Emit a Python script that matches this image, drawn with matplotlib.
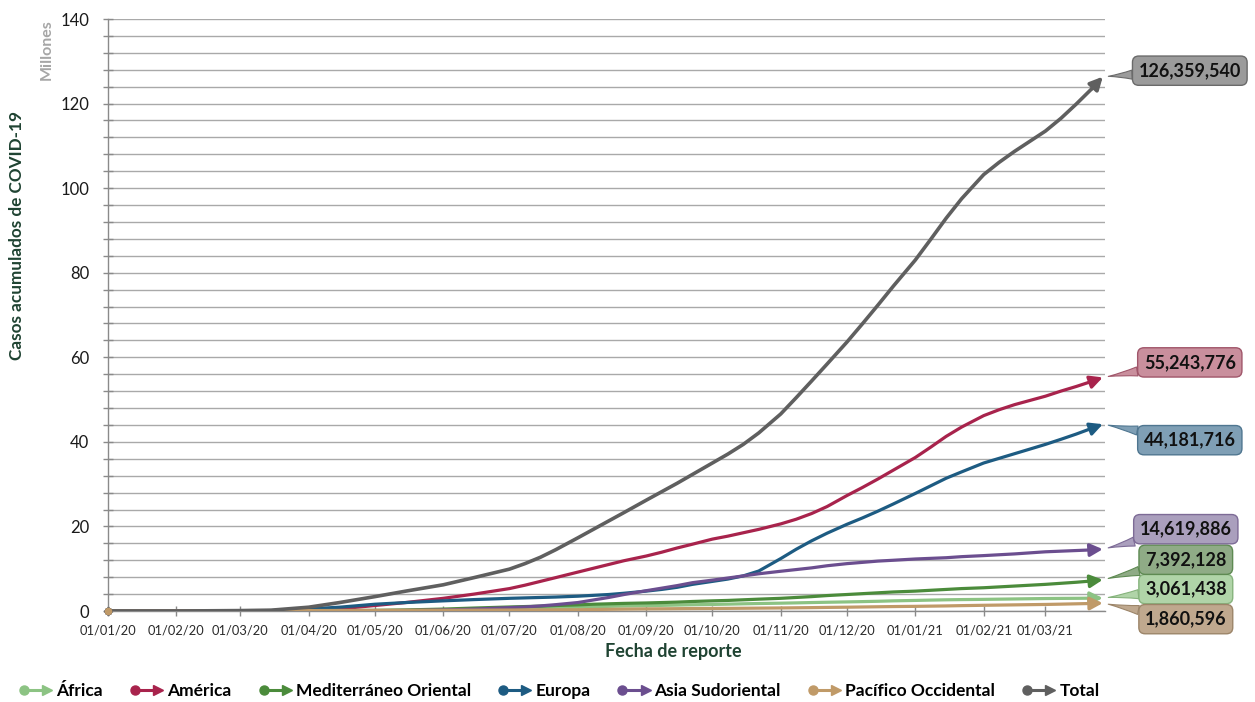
import numpy as np
import pandas as pd
import matplotlib
matplotlib.use("Agg")
import matplotlib.pyplot as plt
import matplotlib.dates as mdates
from matplotlib.ticker import MultipleLocator
from matplotlib.lines import Line2D
from matplotlib.legend_handler import HandlerBase

plt.rcParams["font.family"] = ["Lato", "DejaVu Sans"]

# Report dates and cumulative cases, in millions
report_dates = pd.to_datetime([
    "2020-01-01", "2020-02-01", "2020-03-01", "2020-03-15", "2020-04-01",
    "2020-04-15", "2020-05-01", "2020-05-15", "2020-06-01", "2020-06-15",
    "2020-07-01", "2020-07-08", "2020-07-15", "2020-07-22",
    "2020-08-01", "2020-08-08", "2020-08-15", "2020-08-22",
    "2020-09-01", "2020-09-08", "2020-09-15", "2020-09-22",
    "2020-10-01", "2020-10-08", "2020-10-15", "2020-10-22",
    "2020-11-01", "2020-11-08", "2020-11-15", "2020-11-22",
    "2020-12-01", "2020-12-08", "2020-12-15", "2020-12-22",
    "2021-01-01", "2021-01-08", "2021-01-15", "2021-01-22",
    "2021-02-01", "2021-02-08", "2021-02-15", "2021-02-22",
    "2021-03-01", "2021-03-08", "2021-03-15", "2021-03-22", "2021-03-27",
])

africa = [0, 0, 0, 0, 0.01, 0.02, 0.04, 0.07, 0.15, 0.25,
          0.4, 0.5, 0.6, 0.75, 0.9, 1.0, 1.1, 1.18, 1.25, 1.33, 1.4, 1.48,
          1.55, 1.62, 1.7, 1.77, 1.85, 1.92, 2.0, 2.07, 2.15, 2.22, 2.3, 2.4,
          2.5, 2.58, 2.65, 2.7, 2.75, 2.8, 2.85, 2.9, 2.95, 2.98, 3.0, 3.03,
          3.061438]
america = [0, 0, 0, 0.01, 0.15, 0.5, 1.3, 2.0, 3.0, 4.0,
           5.3, 6.1, 7.0, 7.9, 9.2, 10.1, 11.0, 11.9, 13.0, 13.9, 14.9, 15.8,
           17.0, 17.7, 18.5, 19.3, 20.6, 21.7, 23.05, 24.7, 27.3, 29.2, 31.2,
           33.3, 36.3, 38.75, 41.3, 43.5, 46.2, 47.6, 48.8, 49.8, 50.8, 52.0,
           53.1, 54.3, 55.243776]
mediterraneo = [0, 0, 0, 0, 0.05, 0.1, 0.15, 0.25, 0.45, 0.7,
                0.95, 1.05, 1.15, 1.3, 1.45, 1.6, 1.7, 1.8, 1.9, 2.0, 2.1,
                2.25, 2.4, 2.5, 2.65, 2.8, 3.0, 3.2, 3.4, 3.65, 3.9, 4.1, 4.3,
                4.5, 4.7, 4.9, 5.1, 5.3, 5.5, 5.7, 5.9, 6.1, 6.3, 6.55, 6.8,
                7.1, 7.392128]
europa = [0, 0, 0, 0.1, 0.5, 0.9, 1.6, 2.0, 2.4, 2.7,
          3.0, 3.1, 3.2, 3.3, 3.5, 3.7, 3.9, 4.2, 4.7, 5.1, 5.6, 6.3, 7.0,
          7.55, 8.3, 9.45, 12.4, 14.6, 16.6, 18.4, 20.5, 22.0, 23.6, 25.3,
          27.8, 29.6, 31.4, 32.9, 35.0, 36.1, 37.2, 38.3, 39.4, 40.6, 41.85,
          43.2, 44.181716]
asia_sudoriental = [0, 0, 0, 0, 0.02, 0.05, 0.08, 0.12, 0.25, 0.45,
                    0.8, 0.95, 1.2, 1.5, 2.0, 2.6, 3.2, 3.9, 4.8, 5.4, 6.0,
                    6.7, 7.3, 7.8, 8.3, 8.8, 9.4, 9.8, 10.2, 10.7, 11.2, 11.5,
                    11.8, 12.0, 12.3, 12.45, 12.6, 12.85, 13.1, 13.3, 13.5,
                    13.75, 14.0, 14.15, 14.3, 14.45, 14.619886]
pacifico = [0, 0, 0.08, 0.09, 0.1, 0.13, 0.15, 0.17, 0.18, 0.2,
            0.23, 0.25, 0.27, 0.28, 0.3, 0.35, 0.4, 0.45, 0.5, 0.52, 0.55,
            0.58, 0.6, 0.62, 0.65, 0.68, 0.72, 0.76, 0.8, 0.85, 0.9, 0.95,
            1.0, 1.05, 1.1, 1.15, 1.2, 1.27, 1.35, 1.4, 1.45, 1.5, 1.55,
            1.62, 1.7, 1.78, 1.860596]
total = [0, 0, 0.1, 0.2, 0.9, 2.0, 3.4, 4.7, 6.2, 7.9,
         9.9, 11.2, 12.7, 14.5, 17.3, 19.3, 21.3, 23.3, 26.2, 28.2, 30.2,
         32.3, 35.0, 37.1, 39.4, 42.1, 46.6, 50.45, 54.4, 58.4, 63.6, 67.9,
         72.3, 76.8, 83.0, 87.9, 92.9, 97.5, 103.2, 106.1, 108.7, 111.1,
         113.5, 116.5, 119.9, 123.5, 126.35954]

series = [
    # name, values, line colour, callout fill, callout edge, callout offset (px)
    ("África", africa, "#8cc383", "#b0d4a8", "#86b37c", (83, 9)),
    ("América", america, "#a8234c", "#c98f9d", "#a0566a", (87, 15)),
    ("Mediterráneo Oriental", mediterraneo, "#4b8b3b", "#8fab86", "#5e8a52", (83, 20)),
    ("Europa", europa, "#1d5b82", "#7f9fb5", "#4f7690", (87, -16)),
    ("Asia Sudoriental", asia_sudoriental, "#6b4e8f", "#aa9fbd", "#7d6b96", (83, 20)),
    ("Pacífico Occidental", pacifico, "#c09a68", "#bfa88e", "#9c8569", (83, -16)),
    ("Total", total, "#5f5f5f", "#9b9b9b", "#6a6a6a", (87, 6)),
]

W, H, DPI = 1255, 702, 100
fig = plt.figure(figsize=(W / DPI, H / DPI), dpi=DPI)
ax = fig.add_axes([108 / W, 91 / H, 997 / W, 592 / H])

xnum = mdates.date2num(report_dates)

for i, (name, vals, col, fill, edge, off) in enumerate(series):
    z = 3 + i * 0.1
    lw = 2.6 if name == "Total" else 2.3
    ax.plot(xnum[:-1], vals[:-1], color=col, lw=lw,
            solid_capstyle="round", solid_joinstyle="round", zorder=z)
    # arrow on the final segment
    ax.annotate("", xy=(xnum[-1], vals[-1]), xytext=(xnum[-2], vals[-2]),
                arrowprops=dict(arrowstyle="-|>,head_length=0.75,head_width=0.38",
                                color=col, lw=lw, shrinkA=0, shrinkB=0,
                                mutation_scale=10),
                zorder=z, annotation_clip=False)
    # oval at the start of the line
    ax.plot(xnum[0], vals[0], marker="o", ms=4.5, color=col,
            zorder=6 if name == "Pacífico Occidental" else z, clip_on=False)
    # value callout
    label = f"{round(vals[-1] * 1e6):,}"
    ax.annotate(label, xy=(xnum[-1], vals[-1]), xytext=off,
                textcoords="offset pixels", ha="center", va="center",
                fontsize=13, fontweight="bold", color="#111111",
                bbox=dict(boxstyle="round,pad=0.34,rounding_size=0.35",
                          fc=fill, ec=edge, lw=1),
                arrowprops=dict(arrowstyle="wedge,tail_width=0.5,shrink_factor=0.4",
                                fc=fill, ec=edge, lw=0.8, shrinkA=0, shrinkB=4),
                annotation_clip=False, zorder=8)

# axes
ax.set_ylim(0, 140)
ax.set_xlim(mdates.date2num(pd.Timestamp("2020-01-01")),
            mdates.date2num(pd.Timestamp("2021-03-28")))
ax.yaxis.set_major_locator(MultipleLocator(20))
ax.yaxis.set_minor_locator(MultipleLocator(4))
ax.xaxis.set_major_locator(mdates.MonthLocator())
ax.xaxis.set_major_formatter(mdates.DateFormatter("%d/%m/%y"))

ax.grid(which="both", axis="y", color="#a9a9a9", lw=1.0, zorder=0)
ax.set_axisbelow(True)
for s in ("top", "right"):
    ax.spines[s].set_visible(False)
for s in ("left", "bottom"):
    ax.spines[s].set_color("#8a8a8a")
    ax.spines[s].set_linewidth(1.0)

ax.tick_params(axis="y", which="both", direction="inout", length=7,
               color="#8a8a8a", width=1)
ax.tick_params(axis="y", which="major", labelsize=12, pad=10, labelcolor="#1a1a1a")
ax.tick_params(axis="x", which="major", direction="inout", length=7,
               color="#8a8a8a", width=1, labelsize=9.3, pad=6, labelcolor="#2a2a2a")

fig.text(17 / W, 1 - 235 / H, "Casos acumulados de COVID-19", rotation=90,
         ha="center", va="center", fontsize=12.3, fontweight="bold", color="#1f4332")
fig.text(47 / W, 1 - 50 / H, "Millones", rotation=90, ha="center", va="center",
         fontsize=11.5, fontweight="bold", color="#a6a6a6")
fig.text(673 / W, 1 - 652 / H, "Fecha de reporte", ha="center", va="center",
         fontsize=13, fontweight="bold", color="#1f4332")


class OvalArrowHandler(HandlerBase):
    def create_artists(self, legend, orig_handle, xdescent, ydescent,
                       width, height, fontsize, trans):
        c = orig_handle.get_color()
        y = height / 2 - ydescent
        x0, x1 = -xdescent, width - xdescent
        shaft = Line2D([x0 + 3, x1 - 5], [y, y], color=c, lw=2.2,
                       solid_capstyle="butt", transform=trans)
        oval = Line2D([x0 + 3], [y], marker="o", ms=6.5, color=c, mec=c,
                      transform=trans)
        head = Line2D([x1 - 4], [y], marker=">", ms=7, color=c, mec=c,
                      transform=trans)
        return [shaft, oval, head]


handles = [Line2D([], [], color=s[2]) for s in series]
labels = [s[0] for s in series]
fig.legend(handles, labels, handler_map={Line2D: OvalArrowHandler()},
           ncol=7, loc="center", bbox_to_anchor=(0.446, 0.015), frameon=False,
           handlelength=1.9, handletextpad=0.2, columnspacing=1.6,
           prop=dict(size=12.5, weight="bold"))

fig.savefig("out.png", dpi=DPI)
